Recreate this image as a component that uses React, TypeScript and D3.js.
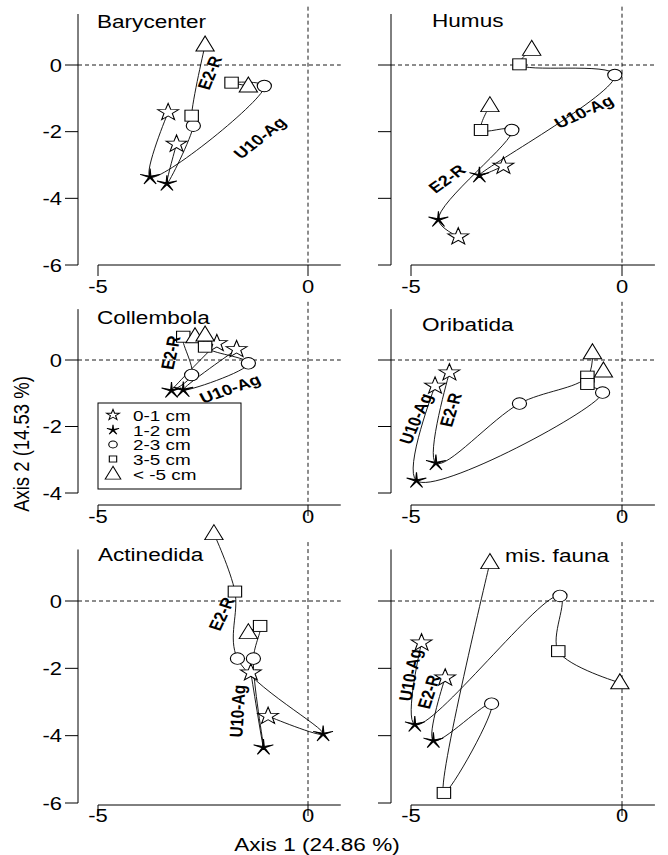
import React from 'react';
import * as d3 from 'd3';

// ---------- data ----------
const panelTitles = ['Barycenter', 'Humus', 'Collembola', 'Oribatida', 'Actinedida', 'mis. fauna'];
const depthLabels = ['0-1 cm', '1-2 cm', '2-3 cm', '3-5 cm', '< -5 cm'];
const depthSymbols = ['star', 'asterisk', 'circle', 'square', 'triangle'];
const treatmentNames = ['E2-R', 'U10-Ag'];
const xTickValues = [-5, 0];
const yTicksTall = [0, -2, -4, -6];
const yTicksShort = [0, -2, -4];

// points in depth order (0-1, 1-2, 2-3, 3-5, < -5 cm): [axis1, axis2]
const barycenterE2R = [[-3.13, -2.37], [-3.36, -3.56], [-2.73, -1.82], [-2.77, -1.52], [-2.45, 0.6]];
const barycenterU10Ag = [[-3.33, -1.42], [-3.76, -3.36], [-1.04, -0.63], [-1.82, -0.53], [-1.42, -0.63]];
const humusE2R = [[-3.88, -5.15], [-4.35, -4.64], [-2.61, -1.95], [-3.34, -1.95], [-3.13, -1.22]];
const humusU10Ag = [[-2.81, -3.03], [-3.38, -3.31], [-0.17, -0.3], [-2.43, 0.02], [-2.14, 0.47]];
const collembolaE2R = [[-2.17, 0.5], [-3.25, -0.92], [-2.77, -0.45], [-2.97, 0.7], [-2.69, 0.7]];
const collembolaU10Ag = [[-1.7, 0.32], [-2.97, -0.9], [-1.42, -0.1], [-2.45, 0.4], [-2.45, 0.75]];
const oribatidaE2R = [[-4.09, -0.38], [-4.41, -3.1], [-2.43, -1.31], [-0.82, -0.5], [-0.7, 0.22]];
const oribatidaU10Ag = [[-4.43, -0.78], [-4.87, -3.63], [-0.46, -0.98], [-0.82, -0.72], [-0.44, -0.33]];
const actinedidaE2R = [[-0.95, -3.42], [0.36, -3.95], [-1.68, -1.71], [-1.74, 0.28], [-2.24, 2.0]];
const actinedidaU10Ag = [[-1.36, -2.13], [-1.06, -4.35], [-1.3, -1.71], [-1.14, -0.74], [-1.42, -0.94]];
const misFaunaE2R = [[-4.19, -2.28], [-4.47, -4.15], [-3.09, -3.05], [-4.22, -5.7], [-3.13, 1.14]];
const misFaunaU10Ag = [[-4.75, -1.24], [-4.91, -3.67], [-1.47, 0.15], [-1.51, -1.49], [-0.05, -2.43]];

const panelSeries = [
  [barycenterE2R, barycenterU10Ag],
  [humusE2R, humusU10Ag],
  [collembolaE2R, collembolaU10Ag],
  [oribatidaE2R, oribatidaU10Ag],
  [actinedidaE2R, actinedidaU10Ag],
  [misFaunaE2R, misFaunaU10Ag],
];

// ---------- layout ----------
const S = 1.22; // horizontal glyph stretch of the reference
const FONT = 'Liberation Sans, Arial, Helvetica, sans-serif';

// annotation anchors (data units) and image-space angle for each treatment label
const labelAnchors = [
  [{ x: -2.33, y: -0.24, a: -68 }, { x: -1.14, y: -2.19, a: -38 }],
  [{ x: -4.14, y: -3.42, a: -35.5 }, { x: -0.9, y: -1.41, a: -24.6 }],
  [{ x: -3.26, y: 0.22, a: -77.6 }, { x: -1.85, y: -0.87, a: -19 }],
  [{ x: -4.05, y: -1.5, a: -72.6 }, { x: -4.88, y: -1.77, a: -65.9 }],
  [{ x: -2.05, y: -0.39, a: -64.8 }, { x: -1.67, y: -3.27, a: -86.5 }],
  [{ x: -4.57, y: -2.7, a: -71.6 }, { x: -5.01, y: -2.2, a: -78.4 }],
];
const titlePos = [
  [97, 28], [432, 27], [97, 324], [422, 331], [98, 561], [505, 562],
];

function unstretchedAngle(aDeg: number) {
  const t = (aDeg * Math.PI) / 180;
  return (Math.atan2(Math.sin(t), Math.cos(t) / S) * 180) / Math.PI;
}

function starPath(R: number, r: number) {
  const pts: [number, number][] = [];
  for (let i = 0; i < 10; i++) {
    const ang = -Math.PI / 2 + (i * Math.PI) / 5;
    const rad = i % 2 === 0 ? R : r;
    pts.push([rad * Math.cos(ang), rad * Math.sin(ang)]);
  }
  return 'M' + pts.map((p) => p[0].toFixed(2) + ',' + p[1].toFixed(2)).join('L') + 'Z';
}

function Marker({ type, x, y, k = 1 }: { type: string; x: number; y: number; k?: number }) {
  const tr = `translate(${x},${y}) scale(${S},1)`;
  const common = { stroke: '#000', strokeWidth: 1 / 1.1, transform: tr } as any;
  if (type === 'circle') return <ellipse cx={0} cy={0} rx={5.8 * k} ry={5.8 * k} fill="#fff" {...common} />;
  if (type === 'square') {
    const s = 11 * k;
    return <rect x={-s / 2} y={-s / 2} width={s} height={s} fill="#fff" {...common} />;
  }
  if (type === 'triangle') {
    return <path d={`M0,${-9 * k}L${-7.5 * k},${6 * k}L${7.5 * k},${6 * k}Z`} fill="#fff" {...common} />;
  }
  if (type === 'star') return <path d={starPath(9 * k, 3.6 * k)} fill="#fff" {...common} />;
  return <path d={starPath(8.5 * k, 1.1 * k)} fill="#000" {...common} />;
}

function SText({ x, y, size, anchor = 'start', weight = 'normal', rot = 0, baseline, children }: any) {
  return (
    <text
      transform={`translate(${x},${y}) scale(${S},1)${rot ? ` rotate(${rot})` : ''}`}
      fontFamily={FONT}
      fontSize={size}
      fontWeight={weight}
      textAnchor={anchor}
      dominantBaseline={baseline}
      fill="#000"
    >
      {children}
    </text>
  );
}

export default function App() {
  const W = 668;
  const H = 855;
  const cols = [
    d3.scaleLinear().domain([-5, 0]).range([98, 308]),
    d3.scaleLinear().domain([-5, 0]).range([411, 622]),
  ];
  const rows = [
    { y: d3.scaleLinear().domain([0, -6]).range([65, 265]), ticks: yTicksTall, axisY: 265, labelY: 293 },
    { y: d3.scaleLinear().domain([0, -4]).range([360, 493]), ticks: yTicksShort, axisY: 505, labelY: 523 },
    { y: d3.scaleLinear().domain([0, -6]).range([601, 803]), ticks: yTicksTall, axisY: 805, labelY: 822 },
  ];
  const line = d3.line().curve(d3.curveCatmullRom.alpha(0.5));

  const panels = panelTitles.map((title, i) => {
    const c = i % 2;
    const r = Math.floor(i / 2);
    const xs = cols[c];
    const row = rows[r];
    const ys = row.y;
    const axisX = xs(-5) - 20;
    const yTop = ys(1.53);
    const xEnd = xs(0.78);
    const dashTop = ys(1.75);
    const series = panelSeries[i];
    return (
      <g key={title}>
        {/* reference lines */}
        <line x1={axisX} x2={xEnd} y1={ys(0)} y2={ys(0)} stroke="#000" strokeWidth={0.9} strokeDasharray="4,3" />
        <line x1={xs(0)} x2={xs(0)} y1={dashTop} y2={row.axisY} stroke="#000" strokeWidth={0.9} strokeDasharray="4,3" />
        {/* y axis */}
        <line x1={axisX} x2={axisX} y1={yTop} y2={ys(row.ticks[row.ticks.length - 1])} stroke="#000" strokeWidth={1} />
        {row.ticks.map((t) => (
          <g key={t}>
            <line x1={axisX - 13} x2={axisX} y1={ys(t)} y2={ys(t)} stroke="#000" strokeWidth={1} />
            {c === 0 && (
              <SText x={axisX - 16} y={ys(t) + 6.5} size={18} anchor="end">
                {String(t)}
              </SText>
            )}
          </g>
        ))}
        {/* x axis */}
        <line x1={xs(-5)} x2={xEnd} y1={row.axisY} y2={row.axisY} stroke="#000" strokeWidth={1} />
        {xTickValues.map((t) => (
          <g key={t}>
            <line x1={xs(t)} x2={xs(t)} y1={row.axisY} y2={row.axisY + 11} stroke="#000" strokeWidth={1} />
            <SText x={xs(t)} y={row.labelY} size={18} anchor="middle">
              {String(t)}
            </SText>
          </g>
        ))}
        {/* trajectories */}
        {series.map((pts, si) => (
          <path
            key={'l' + si}
            d={line(pts.map((p) => [xs(p[0]), ys(p[1])]) as any) || ''}
            fill="none"
            stroke="#000"
            strokeWidth={0.9}
          />
        ))}
        {series.map((pts, si) =>
          pts.map((p, di) => <Marker key={`m${si}-${di}`} type={depthSymbols[di]} x={xs(p[0])} y={ys(p[1])} />)
        )}
        {/* treatment labels */}
        {labelAnchors[i].map((la, si) => (
          <SText
            key={'t' + si}
            x={xs(la.x)}
            y={ys(la.y)}
            size={15}
            weight="bold"
            anchor="middle"
            baseline="central"
            rot={unstretchedAngle(la.a)}
          >
            {treatmentNames[si]}
          </SText>
        ))}
        <SText x={titlePos[i][0]} y={titlePos[i][1]} size={18.5}>
          {title}
        </SText>
      </g>
    );
  });

  const legendX = 98;
  const legendY = 403;
  const legendRowY = [415, 430, 444.5, 459, 474];

  return (
    <svg width={W} height={H} style={{ position: 'absolute', left: 0, top: 0, background: '#fff' }}>
      <rect x={0} y={0} width={W} height={H} fill="#fff" />
      {panels}
      {/* legend */}
      <g>
        <rect x={legendX} y={legendY} width={143} height={86} fill="#fff" stroke="#000" strokeWidth={1} />
        {depthLabels.map((lab, di) => (
          <g key={lab}>
            <Marker
              type={depthSymbols[di]}
              x={113}
              y={legendRowY[di]}
              k={di === 2 ? 0.6 : di === 3 ? 0.55 : di === 4 ? 0.85 : 0.62}
            />
            <SText x={133} y={legendRowY[di] + 5.5} size={15.5}>
              {lab}
            </SText>
          </g>
        ))}
      </g>
      {/* axis titles */}
      <SText x={317} y={851} size={18.5} anchor="middle">
        Axis 1 (24.86 %)
      </SText>
      <text
        transform={`translate(29,444) scale(${S},1) rotate(-90)`}
        fontFamily={FONT}
        fontSize={18.5}
        textAnchor="middle"
        fill="#000"
      >
        Axis 2 (14.53 %)
      </text>
    </svg>
  );
}
